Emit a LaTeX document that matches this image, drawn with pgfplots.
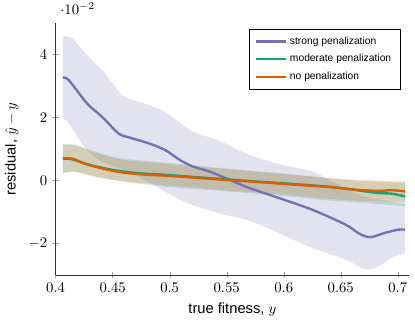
\documentclass[border=0pt]{standalone}
\usepackage{fontspec}
\setmainfont{Liberation Sans}
\usepackage{pgfplots}
\pgfplotsset{compat=1.18}
\usepgfplotslibrary{fillbetween}
\definecolor{cstrong}{HTML}{7570B3}
\definecolor{cmod}{HTML}{1B9E77}
\definecolor{cno}{HTML}{D95F02}
\begin{document}
\begin{tikzpicture}
\begin{axis}[
  scale only axis, width=240.5pt, height=171.6pt,
  xmin=0.4, xmax=0.71, ymin=-0.03, ymax=0.05,
  axis lines=left, axis line style={-, black!80},
  xtick={0.4,0.45,0.5,0.55,0.6,0.65,0.7},
  ytick={-0.02,0,0.02,0.04},
  tick style={black!35},
  xlabel={true fitness, $y$},
  ylabel={residual, $\hat{y}-y$},
  legend style={at={(0.975,0.975)}, anchor=north east, font=\scriptsize, draw=black,
    cells={anchor=west}, row sep=1.5pt, inner xsep=4pt, inner ysep=3pt},
  legend image code/.code={\draw[#1, line width=1.6pt] (0pt,0pt) -- (20pt,0pt);},
]
% strong penalization band
\addplot[name path=sU, draw=none, forget plot, smooth] coordinates {
(0.4064,0.0457) (0.4146,0.0450) (0.4290,0.0392) (0.4436,0.0339) (0.4581,0.0271)
(0.4726,0.0250) (0.4958,0.0218) (0.5176,0.0160) (0.5438,0.0125) (0.5699,0.0081)
(0.5960,0.0052) (0.6251,0.0028) (0.6480,-0.0014) (0.6658,-0.0045) (0.6830,-0.0060) (0.7064,-0.0075)};
\addplot[name path=sL, draw=none, forget plot, smooth] coordinates {
(0.4064,0.0197) (0.4116,0.0181) (0.4174,0.0149) (0.4261,0.0102) (0.4377,0.0065)
(0.4581,0.0034) (0.4755,0.0007) (0.4958,-0.0035) (0.5176,-0.0075) (0.5438,-0.0105)
(0.5699,-0.0128) (0.5960,-0.0168) (0.6251,-0.0214) (0.6542,-0.0251) (0.6716,-0.0282)
(0.6832,-0.0272) (0.6948,-0.0245) (0.7064,-0.0230)};
\addplot[cstrong, fill opacity=0.2, draw=none, forget plot] fill between[of=sU and sL];
% moderate band
\addplot[name path=mU, draw=none, forget plot, smooth] coordinates {
(0.4064,0.0116) (0.4174,0.0113) (0.4349,0.0092) (0.4581,0.0070) (0.4958,0.0057)
(0.5438,0.0040) (0.5960,0.0023) (0.6396,0.0007) (0.6658,-0.0001) (0.7064,-0.0008)};
\addplot[name path=mL, draw=none, forget plot, smooth] coordinates {
(0.4064,0.0023) (0.4174,0.0028) (0.4349,0.0013) (0.4581,-0.0003) (0.4958,-0.0020)
(0.5438,-0.0033) (0.5960,-0.0048) (0.6396,-0.0064) (0.6658,-0.0070) (0.7064,-0.0082)};
\addplot[cmod, fill opacity=0.2, draw=none, forget plot] fill between[of=mU and mL];
% no penalization band
\addplot[name path=nU, draw=none, forget plot, smooth] coordinates {
(0.4064,0.0112) (0.4174,0.0110) (0.4349,0.0088) (0.4581,0.0066) (0.4958,0.0053)
(0.5438,0.0038) (0.5960,0.0022) (0.6396,0.0008) (0.6658,0.0002) (0.7064,-0.0003)};
\addplot[name path=nL, draw=none, forget plot, smooth] coordinates {
(0.4064,0.0025) (0.4174,0.0026) (0.4349,0.0010) (0.4581,-0.0002) (0.4958,-0.0015)
(0.5438,-0.0030) (0.5960,-0.0044) (0.6396,-0.0058) (0.6658,-0.0065) (0.7064,-0.0068)};
\addplot[cno, fill opacity=0.2, draw=none, forget plot] fill between[of=nU and nL];
% lines
\addplot[cstrong, line width=1.6pt, smooth] coordinates {
(0.4064,0.0326) (0.4116,0.0318) (0.4276,0.0244) (0.4407,0.0202) (0.4552,0.0149)
(0.4639,0.0137) (0.4813,0.0118) (0.4958,0.0097) (0.5089,0.0065) (0.5205,0.0044)
(0.5351,0.0028) (0.5525,0.0002) (0.5699,-0.0024) (0.5960,-0.0056) (0.6251,-0.0093)
(0.6542,-0.0140) (0.6658,-0.0168) (0.6759,-0.0180) (0.6890,-0.0166) (0.7006,-0.0156) (0.7064,-0.0156)};
\addlegendentry{strong penalization}
\addplot[cmod, line width=1.6pt, smooth] coordinates {
(0.4064,0.0069) (0.4146,0.0067) (0.4290,0.0050) (0.4523,0.0032) (0.4726,0.0023)
(0.4958,0.0018) (0.5176,0.0012) (0.5438,0.0005) (0.5699,-0.0002) (0.5960,-0.0008)
(0.6396,-0.0020) (0.6658,-0.0032) (0.6830,-0.0040) (0.6948,-0.0042) (0.7064,-0.0051)};
\addlegendentry{moderate penalization}
\addplot[cno, line width=1.6pt, smooth] coordinates {
(0.4064,0.0070) (0.4146,0.0069) (0.4290,0.0049) (0.4523,0.0029) (0.4726,0.0020)
(0.4958,0.0015) (0.5176,0.0010) (0.5438,0.0003) (0.5699,-0.0003) (0.5960,-0.0010)
(0.6396,-0.0021) (0.6658,-0.0030) (0.6830,-0.0033) (0.6948,-0.0031) (0.7064,-0.0035)};
\addlegendentry{no penalization}
\end{axis}
\path ([yshift=2pt]current bounding box.north) ([xshift=2pt]current bounding box.east);
\end{tikzpicture}
\end{document}
